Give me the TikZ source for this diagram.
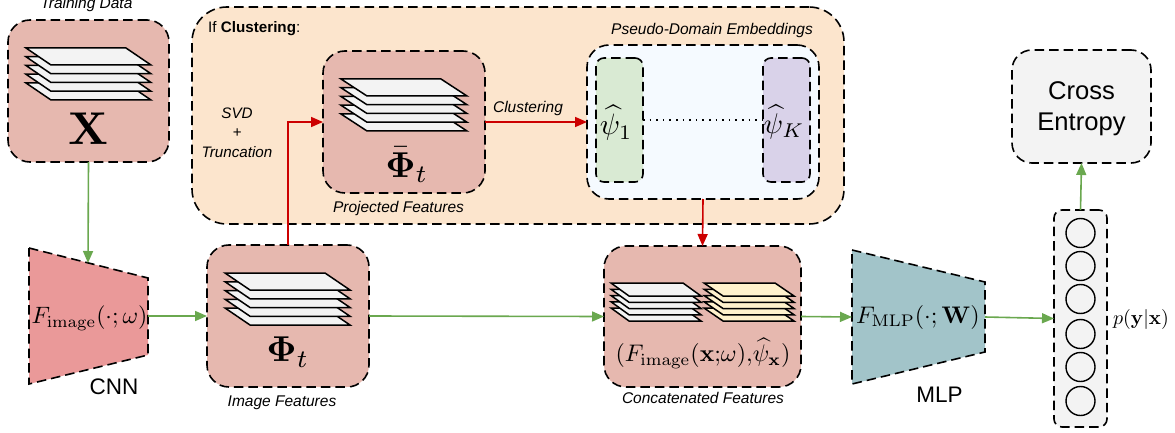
\documentclass[tikz,border=0pt]{standalone}
\usepackage{amsmath}
\usepackage[no-math]{fontspec}
\setmainfont{Liberation Sans}
\usetikzlibrary{arrows.meta}
\definecolor{boxred}{HTML}{E6B8AF}
\definecolor{cnnred}{HTML}{EA9999}
\definecolor{mlpteal}{HTML}{A2C4C9}
\definecolor{clusterorange}{HTML}{FCE5CD}
\definecolor{pseudoblue}{HTML}{F5FAFF}
\definecolor{psigreen}{HTML}{D9EAD3}
\definecolor{psipurple}{HTML}{D9D2E9}
\definecolor{softgrey}{HTML}{F3F3F3}
\definecolor{sheetyellow}{HTML}{FFF2CC}
\definecolor{flowgreen}{HTML}{6AA84F}
\definecolor{flowred}{HTML}{CC0000}
\tikzset{
  dashline/.style={draw=black,line width=1.6pt,dash pattern=on 9.5pt off 5pt},
  roundbox/.style={dashline,inner sep=0pt,outer sep=0pt,rounded corners=#1},
  roundbox/.default=22pt,
  sheet/.style={draw=black,line width=1.5pt,line join=miter},
  greenflow/.style={draw=flowgreen,line width=1.6pt,-{Triangle[length=12pt,width=10pt]}},
  redflow/.style={draw=flowred,line width=1.6pt,-{Triangle[length=12pt,width=10pt]}},
  caption/.style={inner sep=0pt,font=\fontsize{15.5}{18}\selectfont\itshape},
  plainlabel/.style={inner sep=0pt,font=\fontsize{22.5}{26}\selectfont},
  mathlabel/.style={inner sep=0pt,scale=#1},
  unit/.style={draw=black,line width=1.4pt,circle,minimum size=29pt,inner sep=0pt}
}
% left x, top y, top width, skew, sheet height, layer offset, fill
\newcommand{\sheetstack}[7]{%
  \foreach \layer in {4,3,2,1,0}{%
    \draw[sheet,fill=#7] (#1,{#2+\layer*#6}) -- ++(#3,0) -- ++(#4,#5) -- ++(-#3,0) -- cycle;
  }%
}
\begin{document}
\begin{tikzpicture}[x=1pt,y=-1pt]
\useasboundingbox (0,0) rectangle (1175,433);

% If Clustering panel
\node[roundbox=35pt,fill=clusterorange,minimum width=652pt,minimum height=217pt] (cluster) at (518,115.5) {};
\node[inner sep=0pt,anchor=west,font=\fontsize{15.2}{18}\selectfont] (iflabel) at (208,29) {If \textbf{Clustering}:};

% Feature boxes
\node[roundbox,fill=boxred,minimum width=161pt,minimum height=142pt] (data) at (88.5,91) {};
\node[roundbox,fill=boxred,minimum width=162pt,minimum height=142pt] (proj) at (404,122) {};
\node[roundbox,fill=boxred,minimum width=162pt,minimum height=142pt] (imgf) at (288,316) {};
\node[roundbox,fill=boxred,minimum width=197pt,minimum height=141pt] (concat) at (702.5,316.5) {};

% Pseudo-domain embeddings
\node[roundbox,fill=pseudoblue,minimum width=232pt,minimum height=154pt] (pseudo) at (703,122) {};
\node[roundbox=8pt,fill=psigreen,minimum width=47pt,minimum height=124pt] (psione) at (619.5,120) {};
\node[roundbox=8pt,fill=psipurple,minimum width=47pt,minimum height=124pt] (psik) at (786.5,120) {};

% Right column
\node[roundbox=20pt,fill=softgrey,minimum width=139pt,minimum height=113pt] (loss) at (1081.5,106.5) {};
\node[inner sep=0pt,align=center,font=\fontsize{25.6}{31}\selectfont] (losstext) at (1081.5,109) {Cross\\Entropy};
\node[roundbox=8pt,fill=softgrey,minimum width=53pt,minimum height=217pt] (out) at (1080.5,318.5) {};
\node[unit] (u1) at (1080.5,233) {};
\node[unit] (u2) at (1080.5,266) {};
\node[unit] (u3) at (1080.5,299) {};
\node[unit] (u4) at (1080.5,334) {};
\node[unit] (u5) at (1080.5,367) {};
\node[unit] (u6) at (1080.5,401) {};

% Encoders
\coordinate (cnnA) at (29,248);
\coordinate (cnnB) at (148,278);
\coordinate (cnnC) at (148,355);
\coordinate (cnnD) at (29,384);
\coordinate (cnnTop) at (88,263);
\coordinate (cnnRight) at (148,316);
\coordinate (mlpA) at (852,250);
\coordinate (mlpB) at (985,282);
\coordinate (mlpC) at (985,352);
\coordinate (mlpD) at (852,384);
\coordinate (mlpLeft) at (852,317);
\coordinate (mlpRight) at (985,317);
\draw[dashline,fill=cnnred] (cnnA) -- (cnnB) -- (cnnC) -- (cnnD) -- cycle;
\draw[dashline,fill=mlpteal] (mlpA) -- (mlpB) -- (mlpC) -- (mlpD) -- cycle;

% Sheet stacks
\sheetstack{26}{48}{100}{25}{17}{8.75}{softgrey}
\sheetstack{341}{79}{100}{26}{17}{8.75}{softgrey}
\sheetstack{225}{273}{100}{25}{17}{8.75}{softgrey}
\sheetstack{611}{283}{72}{18}{13}{6.25}{softgrey}
\sheetstack{704}{283}{71}{19}{13}{6.25}{sheetyellow}

% Connectors
\draw[greenflow] (data.south) -- (cnnTop);
\draw[greenflow] (cnnRight) -- (imgf.west);
\draw[greenflow] (imgf.east) -- (concat.west);
\draw[greenflow] (concat.east) -- (mlpLeft);
\draw[greenflow] (mlpRight) -- (out.west);
\draw[greenflow] (out.north) -- (loss.south);
\draw[redflow] (imgf.north) |- (proj.west);
\draw[redflow] (proj.east) -- (pseudo.west);
\draw[redflow] (pseudo.south) -- (concat.north);
\draw[black,line width=1.6pt,dash pattern=on 1.6pt off 5pt] (psione.east) -- (psik.west);

% Captions
\node[caption] (tdcap) at (86.5,4) {Training Data};
\node[caption] (pfcap) at (398.5,208) {Projected Features};
\node[caption] (ifcap) at (282,403) {Image Features};
\node[caption] (cfcap) at (703,398) {Concatenated Features};
\node[caption] (pdcap) at (712,30) {Pseudo-Domain Embeddings};
\node[caption] (clcap) at (528,108) {Clustering};
\node[caption,align=center,font=\fontsize{15.2}{19.5}\selectfont\itshape] (svdcap) at (237,132.5) {SVD\\+\\Truncation};
\node[plainlabel] (cnncap) at (114,387) {CNN};
\node[plainlabel] (mlpcap) at (939.5,395) {MLP};

% Mathematics
\node[mathlabel=4.6] (xsym) at (88,129) {$\mathbf{X}$};
\node[mathlabel=3.6] (phibar) at (407,165) {$\bar{\mathbf{\Phi}}_t$};
\node[mathlabel=3.6] (phi) at (288,352) {$\mathbf{\Phi}_t$};
\node[mathlabel=2.37] (fimg) at (89.5,318) {$F_{\mathrm{image}}(\cdot;\omega)$};
\node[mathlabel=2.4] (fmlp) at (918,317) {$F_{\mathrm{MLP}}(\cdot;\mathbf{W})$};
\node[mathlabel=2.4] (fcon) at (703,353) {$(F_{\mathrm{image}}(\mathbf{x}{;}\omega){,}\widehat{\psi}_{\mathbf{x}})$};
\node[mathlabel=2.95] (psi1) at (616,123) {$\widehat{\psi}_1$};
\node[mathlabel=2.85] (psiK) at (784,122) {$\widehat{\psi}_K$};
\node[mathlabel=2] (pyx) at (1141,319) {$p(\mathbf{y}|\mathbf{x})$};
\end{tikzpicture}
\end{document}
